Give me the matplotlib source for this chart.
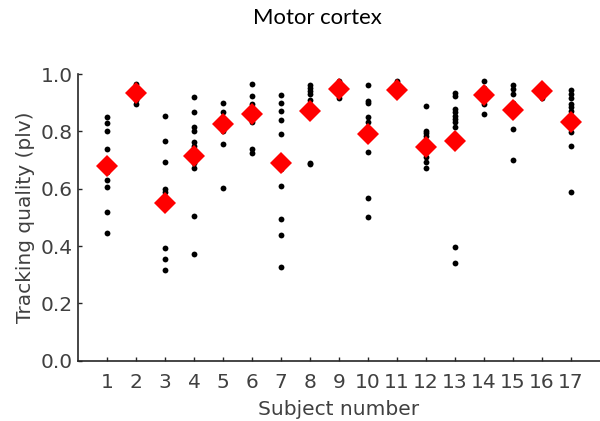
import matplotlib
matplotlib.use("Agg")
import matplotlib.pyplot as plt

subjects = list(range(1, 18))
trials = [
    [0.85, 0.83, 0.80, 0.74, 0.70, 0.66, 0.63, 0.605, 0.52, 0.445],
    [0.965, 0.95, 0.94, 0.925, 0.91, 0.897],
    [0.855, 0.765, 0.693, 0.60, 0.59, 0.395, 0.355, 0.318],
    [0.92, 0.868, 0.815, 0.803, 0.762, 0.75, 0.725, 0.69, 0.673, 0.505, 0.373],
    [0.90, 0.868, 0.84, 0.80, 0.757, 0.604],
    [0.965, 0.925, 0.895, 0.87, 0.832, 0.74, 0.724],
    [0.928, 0.898, 0.873, 0.84, 0.79, 0.70, 0.67, 0.608, 0.495, 0.44, 0.327],
    [0.962, 0.953, 0.942, 0.93, 0.91, 0.89, 0.69, 0.685],
    [0.975, 0.96, 0.94, 0.918],
    [0.962, 0.905, 0.898, 0.852, 0.832, 0.80, 0.728, 0.568, 0.502],
    [0.977, 0.96, 0.93],
    [0.89, 0.803, 0.794, 0.785, 0.76, 0.71, 0.693, 0.672],
    [0.935, 0.924, 0.878, 0.867, 0.855, 0.843, 0.832, 0.815, 0.78, 0.398, 0.34],
    [0.975, 0.95, 0.93, 0.896, 0.86],
    [0.962, 0.948, 0.93, 0.90, 0.81, 0.70],
    [0.955, 0.94, 0.93, 0.915],
    [0.945, 0.93, 0.916, 0.896, 0.884, 0.873, 0.855, 0.83, 0.798, 0.75, 0.588],
]
means = [0.678, 0.935, 0.55, 0.713, 0.826, 0.86, 0.69, 0.873, 0.948, 0.792,
         0.946, 0.747, 0.765, 0.928, 0.875, 0.94, 0.832]
yticks = [0.0, 0.2, 0.4, 0.6, 0.8, 1.0]

fig = plt.figure(figsize=(6.0, 4.21), dpi=100)
ax = fig.add_axes([0.13, 0.143, 0.87, 0.681])

for s, vals in zip(subjects, trials):
    ax.plot([s] * len(vals), vals, 'o', color='black', markersize=4.2,
            markeredgewidth=0, clip_on=False, zorder=2)
ax.plot(subjects, means, 'D', color='#ff0000', markersize=11,
        markeredgewidth=0, clip_on=False, zorder=3)

ax.set_xlim(0, 18)
ax.set_ylim(0, 1.0)
ax.set_xticks(subjects)
ax.set_xticklabels([str(s) for s in subjects])
ax.set_yticks(yticks)
ax.set_yticklabels([f"{t:.1f}" for t in yticks])

for sp in ['top', 'right']:
    ax.spines[sp].set_visible(False)
for sp in ['left', 'bottom']:
    ax.spines[sp].set_color('#262626')
    ax.spines[sp].set_linewidth(1.2)

ax.tick_params(direction='in', length=3, width=1, colors='#262626',
               labelcolor='#404040', labelsize=14.5)
ax.tick_params(axis='x', pad=8.5)
ax.tick_params(axis='y', pad=4)

ax.set_xlabel("Subject number", fontsize=14.5, color='#404040', labelpad=6)
ax.set_ylabel("Tracking quality (plv)", fontsize=14.5, color='#404040', labelpad=4)

fig.text(0.529, 0.957, "Motor cortex", fontsize=15.9, family='Lato',
         ha='center', va='center', color='black')

fig.savefig("out.png", dpi=100)
